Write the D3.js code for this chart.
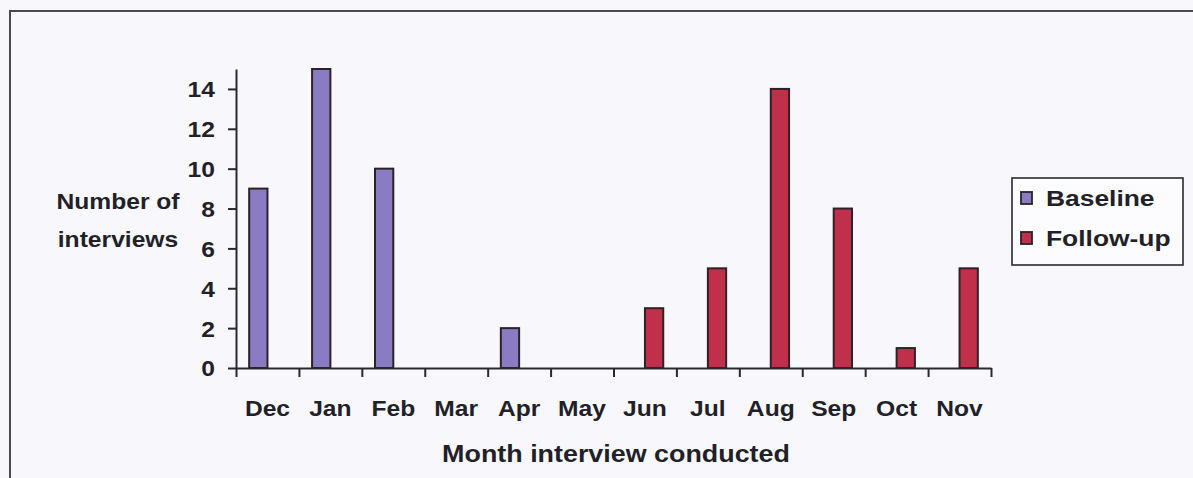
<!DOCTYPE html>
<html>
<head>
<meta charset="utf-8">
<script src="https://cdn.jsdelivr.net/npm/d3@7"></script>
<style>
  html, body { margin: 0; padding: 0; background: #f8f8fc; }
  svg { display: block; }
  text { font-family: "Liberation Sans", Arial, sans-serif; font-weight: bold; fill: #231f28; }
</style>
</head>
<body>
<svg id="chart" width="1193" height="478"></svg>
<script>
const months = ["Dec","Jan","Feb","Mar","Apr","May","Jun","Jul","Aug","Sep","Oct","Nov"];
const seriesNames = ["Baseline","Follow-up"];
const baseline = [9, 15, 10, 0, 2, 0, 0, 0, 0, 0, 0, 0];
const followUp = [0, 0, 0, 0, 0, 0, 3, 5, 14, 8, 1, 5];
const yTicks = [0, 2, 4, 6, 8, 10, 12, 14];
const yTitle = ["Number of", "interviews"];
const xTitle = "Month interview conducted";
const colors = ["#8a7cc2", "#c1304b"];

(function () {
const SX = 1.12; // horizontal stretch of the scanned text
const svg = d3.select("#chart");
const pLeft = 236, pRight = 991, pBottom = 368, pTop = 69;

// frame
svg.append("rect").attr("x", 10).attr("y", 11).attr("width", 1250).attr("height", 520)
  .attr("fill", "#f8f8fc").attr("stroke", "#4a4a50").attr("stroke-width", 2);

const x0 = d3.scaleBand().domain(months).range([pLeft, pRight]).paddingInner(0).paddingOuter(0);
const x1 = d3.scaleBand().domain(seriesNames).range([0, x0.bandwidth()]).paddingInner(0).paddingOuter(0.72);
const y = d3.scaleLinear().domain([0, 15]).range([pBottom, pTop]);
const xi = d3.scaleLinear().domain([0, months.length]).range([pLeft, pRight]);

const data = months.map((m, i) => ({ month: m, values: [baseline[i], followUp[i]] }));

// bars
const g = svg.append("g");
data.forEach(d => {
  d.values.forEach((v, k) => {
    if (!v) return;
    g.append("rect")
      .attr("x", x0(d.month) + x1(seriesNames[k]))
      .attr("y", y(v))
      .attr("width", x1.bandwidth())
      .attr("height", y(0) - y(v))
      .attr("fill", colors[k])
      .attr("stroke", "#2c2228")
      .attr("stroke-width", 2);
  });
});

// y axis
const yAxis = svg.append("g").attr("transform", `translate(${pLeft},0)`)
  .call(d3.axisLeft(y).tickValues(yTicks).tickSize(8).tickSizeOuter(0).tickFormat(d3.format("d")));
yAxis.select(".domain").attr("stroke", "#2a2a2e").attr("stroke-width", 2);
yAxis.selectAll(".tick line").attr("stroke", "#2a2a2e").attr("stroke-width", 2);
yAxis.selectAll(".tick text")
  .attr("x", 0).attr("dy", "0.36em")
  .attr("transform", `translate(-21,0) scale(${SX},1)`)
  .style("font-size", "22px").style("font-family", "Liberation Sans, Arial, sans-serif")
  .style("font-weight", "bold").attr("fill", "#231f28");

// x axis (ticks at category boundaries)
const xAxis = svg.append("g").attr("transform", `translate(0,${pBottom})`)
  .call(d3.axisBottom(xi).tickValues(d3.range(months.length + 1)).tickSizeInner(9).tickSizeOuter(0).tickFormat(""));
xAxis.select(".domain").attr("stroke", "#2a2a2e").attr("stroke-width", 2);
xAxis.selectAll(".tick line").attr("stroke", "#2a2a2e").attr("stroke-width", 2);

// month labels
svg.append("g").selectAll("text").data(months).join("text")
  .attr("transform", m => `translate(${x0(m) + x0.bandwidth() / 2},416) scale(${SX},1)`)
  .attr("text-anchor", "middle").style("font-size", "22px").text(m => m);

// y title
svg.append("g").selectAll("text").data(yTitle).join("text")
  .attr("transform", (t, i) => `translate(118,${209 + i * 38}) scale(${SX},1)`)
  .attr("text-anchor", "middle").style("font-size", "22px").text(t => t);

// x title
svg.append("text")
  .attr("transform", `translate(616,462) scale(${SX},1)`)
  .attr("text-anchor", "middle").style("font-size", "24px").text(xTitle);

// legend
const lg = svg.append("g");
lg.append("rect").attr("x", 1012).attr("y", 178).attr("width", 171).attr("height", 87)
  .attr("fill", "#fcfcfe").attr("stroke", "#2a2a2e").attr("stroke-width", 1.6);
seriesNames.forEach((s, k) => {
  const yy = 198 + k * 40;
  lg.append("rect").attr("x", 1021).attr("y", yy - 6).attr("width", 11).attr("height", 12)
    .attr("fill", colors[k]).attr("stroke", "#2c2228").attr("stroke-width", 1.8);
  lg.append("text").attr("transform", `translate(1046,${yy + 8}) scale(1.2,1)`)
    .style("font-size", "22px").text(s);
});
})();
</script>
</body>
</html>
